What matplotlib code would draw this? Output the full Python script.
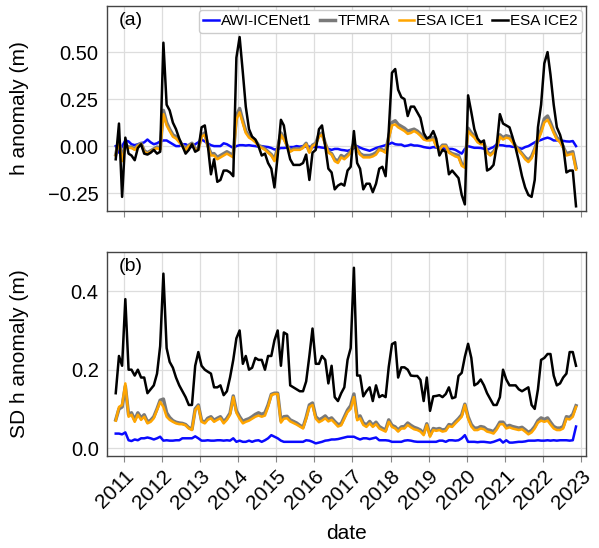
import matplotlib
matplotlib.use("Agg")
import matplotlib.pyplot as plt
import matplotlib.dates as mdates
import numpy as np
import pandas as pd

plt.rcParams['font.family'] = ['Liberation Sans', 'DejaVu Sans']

# monthly dates, Oct 2010 - Nov 2022
dates = pd.date_range('2010-10-01', periods=146, freq='MS') + pd.Timedelta(days=14)

# (a) h anomaly (m)
h_awi = [0.0, -0.035, 0.0, 0.03, 0.025, 0.01, 0.005, 0.01, 0.015, 0.02,
         0.035, 0.02, 0.01, 0.015, 0.025, 0.03, 0.03, 0.02, 0.01, 0.0,
         0.0, 0.01, 0.01, 0.0, -0.005, 0.01, 0.02, 0.035, 0.025, 0.015,
         0.005, 0.0, 0.0, 0.0, 0.015, 0.01, 0.0, -0.01, 0.0, 0.005,
         0.005, 0.003, 0.005, 0.002, 0.0, -0.003, 0.0, -0.003, -0.005, -0.01,
         -0.018, -0.015, -0.01, -0.01, -0.008, -0.005, -0.005, 0.0, -0.003, 0.0,
         -0.003, -0.003, -0.005, -0.005, -0.005, -0.008, -0.01, -0.015, -0.02, -0.015,
         -0.015, -0.02, -0.022, -0.025, -0.02, -0.01, 0.0, -0.008, -0.015, -0.02,
         -0.025, -0.018, -0.01, -0.005, 0.0, 0.005, 0.01, 0.018, 0.01, 0.008,
         0.008, 0.0, 0.003, 0.008, 0.003, 0.003, 0.0, -0.005, -0.008, -0.01,
         -0.005, -0.008, -0.01, -0.01, -0.015, -0.015, -0.015, -0.02, -0.03, -0.04,
         -0.015, 0.0, -0.005, -0.009, -0.009, -0.01, -0.014, -0.02, -0.012, -0.005,
         0.009, 0.005, 0.004, 0.0, 0.0, -0.004, -0.004, -0.01, -0.014, -0.005,
         0.0, 0.01, 0.02, 0.027, 0.033, 0.04, 0.045, 0.04, 0.03, 0.03,
         0.03, 0.028, 0.025, 0.024, 0.027, 0.0]
h_tfmra = [-0.045, 0.035, -0.07, 0.005, -0.005, -0.005, -0.015, 0.005, 0.015, -0.025,
           -0.035, -0.025, -0.015, -0.005, -0.015, 0.19, 0.125, 0.09, 0.06, 0.05,
           0.03, 0.005, -0.015, 0.005, 0.015, -0.015, -0.015, 0.06, 0.07, 0.005,
           -0.04, -0.04, -0.06, -0.05, -0.04, -0.03, -0.04, -0.05, 0.16, 0.2,
           0.135, 0.08, 0.055, 0.045, 0.03, 0.005, -0.005, -0.015, -0.03, -0.045,
           -0.07, -0.01, 0.07, 0.045, 0.005, -0.025, -0.015, -0.015, -0.015, -0.005,
           0.015, -0.03, 0.005, 0.015, 0.06, 0.07, 0.015, -0.03, -0.04, -0.07,
           -0.08, -0.05, -0.06, -0.045, -0.03, 0.015, -0.015, -0.04, -0.05, -0.05,
           -0.05, -0.045, -0.035, -0.015, -0.02, -0.03, 0.05, 0.125, 0.135, 0.115,
           0.105, 0.095, 0.08, 0.085, 0.09, 0.08, 0.065, 0.045, 0.04, 0.04,
           0.045, 0.005, -0.015, 0.005, 0.005, -0.03, -0.04, -0.045, -0.05, -0.095,
           -0.105, 0.095, 0.07, 0.055, 0.03, 0.015, 0.015, -0.03, -0.045, -0.03,
           -0.005, 0.06, 0.045, 0.055, 0.05, 0.03, 0.0, -0.02, -0.04, -0.06,
           -0.075, -0.055, -0.015, 0.04, 0.085, 0.145, 0.16, 0.125, 0.08, 0.045,
           0.03, -0.005, -0.04, -0.035, -0.03, -0.115]
h_ice1 = [-0.05, 0.03, -0.08, 0.0, -0.01, -0.01, -0.02, 0.0, 0.01, -0.03,
          -0.04, -0.03, -0.02, -0.01, -0.02, 0.17, 0.11, 0.08, 0.05, 0.04,
          0.02, 0.0, -0.02, 0.0, 0.01, -0.02, -0.02, 0.05, 0.06, 0.0,
          -0.05, -0.05, -0.07, -0.06, -0.05, -0.04, -0.05, -0.06, 0.14, 0.18,
          0.12, 0.07, 0.045, 0.035, 0.02, 0.0, -0.01, -0.02, -0.035, -0.05,
          -0.08, -0.02, 0.06, 0.035, 0.0, -0.03, -0.02, -0.02, -0.02, -0.01,
          0.01, -0.035, 0.0, 0.01, 0.05, 0.06, 0.01, -0.035, -0.045, -0.08,
          -0.09, -0.06, -0.07, -0.055, -0.035, 0.01, -0.02, -0.045, -0.06, -0.06,
          -0.06, -0.055, -0.045, -0.02, -0.025, -0.035, 0.04, 0.11, 0.115, 0.1,
          0.09, 0.08, 0.065, 0.07, 0.08, 0.07, 0.055, 0.035, 0.03, 0.03,
          0.035, 0.0, -0.02, 0.0, 0.0, -0.035, -0.045, -0.055, -0.06, -0.105,
          -0.115, 0.08, 0.06, 0.045, 0.02, 0.01, 0.01, -0.035, -0.05, -0.035,
          -0.01, 0.05, 0.035, 0.045, 0.04, 0.02, -0.005, -0.025, -0.045, -0.07,
          -0.085, -0.065, -0.02, 0.03, 0.07, 0.125, 0.14, 0.11, 0.07, 0.035,
          0.02, -0.01, -0.05, -0.045, -0.04, -0.125]
h_ice2 = [-0.07, 0.12, -0.27, 0.045, -0.04, -0.05, -0.075, -0.01, 0.01, -0.04,
          -0.045, -0.035, -0.02, -0.04, -0.03, 0.55, 0.22, 0.19, 0.125, 0.09,
          0.04, 0.0, -0.04, -0.02, 0.01, -0.03, -0.02, 0.10, 0.11, 0.01,
          -0.15, -0.07, -0.19, -0.18, -0.13, -0.13, -0.14, -0.16, 0.47, 0.58,
          0.39, 0.21, 0.09, 0.05, 0.035, 0.0, -0.05, -0.04, -0.09, -0.12,
          -0.22, -0.05, 0.14, 0.11, 0.0, -0.07, -0.1, -0.1, -0.1, -0.09,
          -0.045, -0.18, -0.035, -0.02, 0.09, 0.11, 0.0, -0.12, -0.14, -0.23,
          -0.21, -0.2, -0.21, -0.13, -0.11, 0.08, -0.09, -0.12, -0.23, -0.2,
          -0.2, -0.245, -0.2, -0.12, -0.11, -0.16, 0.08, 0.39, 0.41, 0.3,
          0.26, 0.25, 0.16, 0.21, 0.21, 0.18, 0.15, 0.07, 0.04, 0.05,
          0.08, 0.04, -0.05, -0.02, -0.03, -0.15, -0.13, -0.15, -0.17, -0.26,
          -0.31, 0.27, 0.18, 0.09, 0.04, 0.02, 0.03, -0.13, -0.12, -0.1,
          0.0, 0.17, 0.12, 0.11, 0.1, 0.05, -0.01, -0.08, -0.16, -0.22,
          -0.26, -0.27, -0.18, 0.1, 0.22, 0.44, 0.5, 0.38, 0.22, 0.1,
          0.06, 0.0, -0.14, -0.13, -0.13, -0.32]

# (b) SD h anomaly (m)
sd_awi = [0.037, 0.037, 0.035, 0.04, 0.02, 0.018, 0.022, 0.02, 0.025, 0.025,
          0.027, 0.025, 0.022, 0.025, 0.029, 0.019, 0.02, 0.019, 0.019, 0.02,
          0.02, 0.025, 0.025, 0.025, 0.025, 0.03, 0.025, 0.019, 0.019, 0.02,
          0.019, 0.019, 0.02, 0.02, 0.019, 0.02, 0.019, 0.025, 0.016, 0.019,
          0.016, 0.016, 0.019, 0.016, 0.019, 0.02, 0.016, 0.02, 0.025, 0.033,
          0.029, 0.025, 0.019, 0.016, 0.016, 0.016, 0.016, 0.016, 0.016, 0.016,
          0.02, 0.019, 0.016, 0.012, 0.014, 0.016, 0.019, 0.02, 0.022, 0.022,
          0.023, 0.025, 0.027, 0.029, 0.029, 0.029, 0.025, 0.022, 0.025, 0.025,
          0.023, 0.025, 0.027, 0.02, 0.02, 0.02, 0.019, 0.016, 0.016, 0.016,
          0.016, 0.019, 0.02, 0.019, 0.017, 0.016, 0.016, 0.016, 0.016, 0.016,
          0.016, 0.016, 0.019, 0.019, 0.016, 0.02, 0.02, 0.019, 0.02, 0.025,
          0.033, 0.016, 0.016, 0.016, 0.015, 0.016, 0.016, 0.015, 0.014, 0.016,
          0.019, 0.022, 0.014, 0.02, 0.014, 0.014, 0.015, 0.016, 0.016, 0.017,
          0.019, 0.019, 0.019, 0.02, 0.019, 0.019, 0.02, 0.019, 0.02, 0.019,
          0.02, 0.02, 0.02, 0.019, 0.02, 0.055]
sd_tfmra = [0.072, 0.1, 0.105, 0.158, 0.085, 0.09, 0.072, 0.09, 0.077, 0.085,
            0.067, 0.071, 0.08, 0.1, 0.122, 0.125, 0.09, 0.078, 0.07, 0.066,
            0.064, 0.063, 0.06, 0.052, 0.048, 0.1, 0.11, 0.07, 0.066, 0.076,
            0.08, 0.071, 0.076, 0.08, 0.067, 0.076, 0.089, 0.133, 0.095, 0.08,
            0.068, 0.072, 0.075, 0.08, 0.086, 0.09, 0.086, 0.09, 0.11, 0.137,
            0.14, 0.14, 0.07, 0.08, 0.081, 0.072, 0.068, 0.064, 0.058, 0.053,
            0.078, 0.11, 0.115, 0.08, 0.072, 0.076, 0.082, 0.073, 0.077, 0.068,
            0.06, 0.062, 0.079, 0.097, 0.108, 0.138, 0.078, 0.082, 0.064, 0.059,
            0.068, 0.058, 0.066, 0.055, 0.05, 0.046, 0.072, 0.058, 0.054, 0.046,
            0.054, 0.055, 0.064, 0.058, 0.053, 0.05, 0.046, 0.037, 0.062, 0.033,
            0.05, 0.048, 0.05, 0.046, 0.048, 0.06, 0.058, 0.067, 0.075, 0.085,
            0.112, 0.08, 0.06, 0.051, 0.051, 0.055, 0.053, 0.047, 0.045, 0.042,
            0.052, 0.066, 0.066, 0.055, 0.058, 0.055, 0.053, 0.051, 0.053, 0.047,
            0.04, 0.045, 0.055, 0.07, 0.077, 0.073, 0.077, 0.066, 0.055, 0.051,
            0.051, 0.055, 0.08, 0.078, 0.086, 0.108]
sd_ice1 = [0.07, 0.105, 0.11, 0.165, 0.08, 0.085, 0.067, 0.085, 0.072, 0.08,
           0.063, 0.067, 0.076, 0.097, 0.118, 0.105, 0.08, 0.072, 0.067, 0.063,
           0.061, 0.061, 0.058, 0.05, 0.046, 0.097, 0.107, 0.067, 0.063, 0.072,
           0.076, 0.067, 0.072, 0.076, 0.063, 0.072, 0.085, 0.13, 0.09, 0.075,
           0.063, 0.067, 0.07, 0.075, 0.08, 0.083, 0.08, 0.083, 0.105, 0.135,
           0.138, 0.138, 0.065, 0.075, 0.076, 0.068, 0.064, 0.06, 0.055, 0.05,
           0.075, 0.105, 0.11, 0.075, 0.066, 0.07, 0.076, 0.068, 0.072, 0.064,
           0.055, 0.058, 0.075, 0.092, 0.1, 0.13, 0.071, 0.076, 0.059, 0.054,
           0.063, 0.054, 0.061, 0.05, 0.046, 0.042, 0.067, 0.054, 0.05, 0.042,
           0.05, 0.05, 0.059, 0.053, 0.048, 0.046, 0.042, 0.033, 0.059, 0.029,
           0.046, 0.044, 0.046, 0.042, 0.044, 0.056, 0.054, 0.063, 0.071, 0.08,
           0.11, 0.075, 0.055, 0.046, 0.046, 0.05, 0.048, 0.042, 0.04, 0.037,
           0.047, 0.061, 0.061, 0.05, 0.053, 0.05, 0.048, 0.046, 0.048, 0.042,
           0.035, 0.04, 0.05, 0.065, 0.07, 0.067, 0.07, 0.06, 0.05, 0.046,
           0.046, 0.05, 0.075, 0.073, 0.08, 0.105]
sd_ice2 = [0.14, 0.235, 0.21, 0.38, 0.2, 0.2, 0.185, 0.2, 0.18, 0.18,
           0.14, 0.15, 0.16, 0.19, 0.26, 0.445, 0.255, 0.22, 0.205, 0.18,
           0.16, 0.145, 0.13, 0.11, 0.11, 0.21, 0.245, 0.21, 0.2, 0.195,
           0.19, 0.155, 0.155, 0.16, 0.135, 0.145, 0.18, 0.225, 0.28, 0.3,
           0.215, 0.235, 0.2, 0.205, 0.23, 0.225, 0.225, 0.2, 0.235, 0.235,
           0.275, 0.3, 0.21, 0.295, 0.29, 0.16, 0.155, 0.15, 0.145, 0.145,
           0.17, 0.235, 0.305, 0.215, 0.215, 0.235, 0.225, 0.165, 0.21, 0.13,
           0.12, 0.14, 0.155, 0.225, 0.255, 0.46, 0.185, 0.185, 0.132, 0.145,
           0.155, 0.12, 0.16, 0.13, 0.135, 0.13, 0.207, 0.265, 0.27, 0.18,
           0.206, 0.206, 0.2, 0.185, 0.184, 0.184, 0.174, 0.12, 0.18, 0.095,
           0.132, 0.133, 0.135, 0.13, 0.138, 0.155, 0.127, 0.13, 0.184, 0.192,
           0.233, 0.266, 0.23, 0.16, 0.165, 0.175, 0.16, 0.14, 0.125, 0.11,
           0.11, 0.13, 0.2, 0.175, 0.16, 0.16, 0.16, 0.15, 0.145, 0.15,
           0.155, 0.11, 0.1, 0.15, 0.225, 0.23, 0.24, 0.24, 0.185, 0.16,
           0.165, 0.18, 0.19, 0.245, 0.245, 0.21]

labels = ['AWI-ICENet1', 'TFMRA', 'ESA ICE1', 'ESA ICE2']
colors = ['#0a0aff', '#7a7a7a', '#ffa500', 'black']
widths = [1.8, 2.5, 1.8, 1.8]

fig = plt.figure(figsize=(5.99, 5.48), dpi=100)
ax1 = fig.add_axes([0.1786, 0.615, 0.7994, 0.374])
ax2 = fig.add_axes([0.1786, 0.168, 0.7994, 0.372], sharex=ax1)

for ax, series in [(ax1, [h_awi, h_tfmra, h_ice1, h_ice2]),
                   (ax2, [sd_awi, sd_tfmra, sd_ice1, sd_ice2])]:
    for s, lab, c, w in zip(series, labels, colors, widths):
        ax.plot(dates, s, color=c, lw=w, label=lab)
    ax.grid(True, color='#dddddd', lw=0.9)
    ax.set_axisbelow(True)
    for sp in ax.spines.values():
        sp.set_color('#444444')
        sp.set_linewidth(1.0)
    ax.tick_params(axis='y', length=0, labelsize=14.5, pad=6)
    ax.tick_params(axis='x', length=4, color='#888888', labelsize=15)

ax1.set_ylim(-0.345, 0.745)
ax1.set_yticks([-0.25, 0.0, 0.25, 0.5])
ax1.set_yticklabels(['\u22120.25', '0.00', '0.25', '0.50'])
ax2.set_ylim(-0.02, 0.5)
ax2.set_yticks([0.0, 0.2, 0.4])
ax2.set_yticklabels(['0.0', '0.2', '0.4'])

ax1.set_xlim(pd.Timestamp('2010-07-23'), pd.Timestamp('2023-02-17'))
ax1.xaxis.set_major_locator(mdates.YearLocator())
ax1.xaxis.set_major_formatter(mdates.DateFormatter('%Y'))
plt.setp(ax1.get_xticklabels(), visible=False)
plt.setp(ax2.get_xticklabels(), rotation=45, ha='right', rotation_mode='anchor')

ax1.set_ylabel('h anomaly (m)', fontsize=15)
ax2.set_ylabel('SD h anomaly (m)', fontsize=15)
ax2.set_xlabel('date', fontsize=15, labelpad=8)
ax1.yaxis.set_label_coords(-0.162, 0.5)
ax2.yaxis.set_label_coords(-0.162, 0.5)

ax1.text(0.025, 0.93, '(a)', transform=ax1.transAxes, fontsize=14, va='center')
ax2.text(0.025, 0.93, '(b)', transform=ax2.transAxes, fontsize=14, va='center')

ax1.legend(loc='upper right', ncol=4, fontsize=11, handlelength=1.0,
           handletextpad=0.15, columnspacing=0.55, borderpad=0.3,
           borderaxespad=0.25, framealpha=1.0, edgecolor='#cccccc')

fig.savefig('out.png', dpi=100)
